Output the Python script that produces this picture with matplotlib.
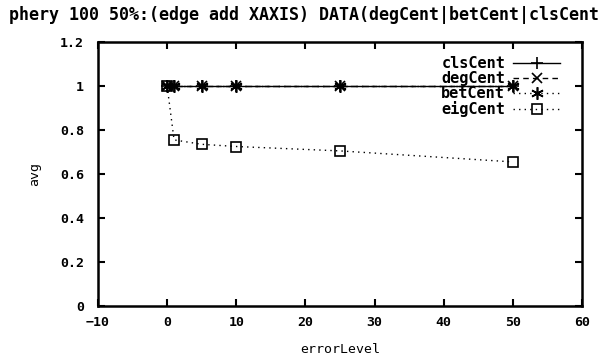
import matplotlib
matplotlib.use("Agg")
import matplotlib.pyplot as plt
from matplotlib.ticker import FuncFormatter

error_level = [0, 1, 5, 10, 25, 50]
cls_cent = [1.0, 1.0, 1.0, 1.0, 1.0, 1.0]
deg_cent = [1.0, 1.0, 1.0, 1.0, 1.0, 1.0]
bet_cent = [1.0, 1.0, 1.0, 1.0, 1.0, 1.0]
eig_cent = [1.0, 0.755, 0.735, 0.725, 0.705, 0.655]

title = "phery 100 50%:(edge add XAXIS) DATA(degCent|betCent|clsCent"
xticks = [-10, 0, 10, 20, 30, 40, 50, 60]
yticks = [0, 0.2, 0.4, 0.6, 0.8, 1.0, 1.2]

plt.rcParams['font.family'] = 'DejaVu Sans Mono'
plt.rcParams['font.weight'] = 'bold'
plt.rcParams['font.size'] = 9.5

fig = plt.figure(figsize=(6.11, 3.58), dpi=100)
ax = fig.add_axes([98 / 611, 1 - 306 / 358, (582 - 98) / 611, (306 - 42) / 358])

ax.plot(error_level, cls_cent, color='black', linestyle='-', lw=1,
        marker='+', ms=8, mew=1.2, label='clsCent')
ax.plot(error_level, deg_cent, color='black', linestyle=(0, (4, 3)), lw=1,
        marker='x', ms=7, mew=1.2, label='degCent')
ax.plot(error_level, bet_cent, color='black', linestyle=(0, (1, 3)), lw=1,
        marker=(6, 2, 0), ms=9, mew=1.2, label='betCent')
ax.plot(error_level, eig_cent, color='black', linestyle=(0, (1, 3)), lw=1,
        marker='s', ms=7, mew=1.2, fillstyle='none', label='eigCent')

ax.set_xlim(-10, 60)
ax.set_ylim(0, 1.2)
ax.set_xticks(xticks)
ax.set_yticks(yticks)
ax.yaxis.set_major_formatter(FuncFormatter(lambda v, p: '%g' % round(v, 2)))
ax.tick_params(direction='in', length=5, width=1.5, top=True, right=True)
ax.tick_params(axis='y', pad=10)
ax.tick_params(axis='x', pad=7)
for s in ax.spines.values():
    s.set_linewidth(1.8)

ax.set_xlabel('errorLevel', labelpad=10)
ax.set_ylabel('avg', labelpad=14)

leg = ax.legend(loc='upper right', bbox_to_anchor=(0.955, 0.947), frameon=False,
                markerfirst=False, handlelength=3.1, labelspacing=0.0,
                handletextpad=0.5, borderpad=0, borderaxespad=0,
                fontsize=11)

fig.text(0.015, 1 - 15 / 358, title, fontsize=12, fontweight='bold',
         ha='left', va='center')

fig.savefig('out.png', dpi=100)
